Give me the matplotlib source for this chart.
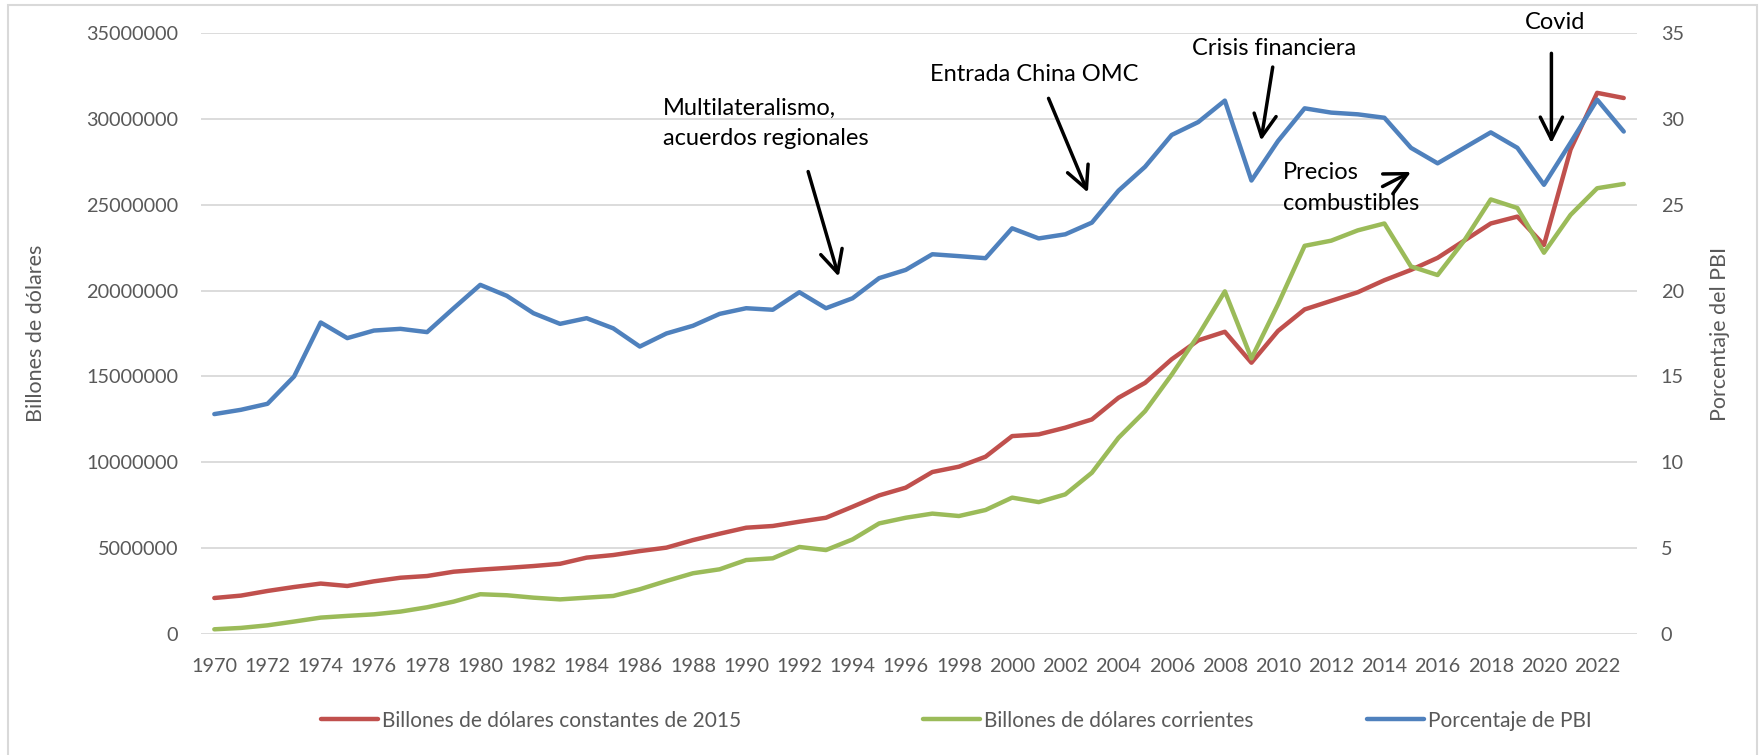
import matplotlib
matplotlib.use("Agg")
import matplotlib.pyplot as plt
from matplotlib.ticker import MultipleLocator, FuncFormatter
from matplotlib.patches import Rectangle

plt.rcParams['font.family'] = ['Lato', 'DejaVu Sans']

# data
years = list(range(1970, 2024))

# billones de dolares constantes de 2015
constantes = [2110000, 2250000, 2520000, 2750000, 2950000, 2810000, 3080000, 3290000, 3390000, 3640000,
              3760000, 3860000, 3970000, 4100000, 4460000, 4610000, 4840000, 5040000, 5480000, 5850000,
              6200000, 6300000, 6550000, 6780000, 7420000, 8080000, 8530000, 9440000, 9750000, 10330000,
              11530000, 11630000, 12020000, 12500000, 13760000, 14630000, 16000000, 17100000, 17600000, 15800000,
              17650000, 18900000, 19400000, 19900000, 20600000, 21200000, 21900000, 22900000, 23900000, 24300000,
              22650000, 28200000, 31500000, 31200000]

# billones de dolares corrientes
corrientes = [290000, 370000, 520000, 740000, 970000, 1070000, 1160000, 1320000, 1570000, 1900000,
              2330000, 2270000, 2130000, 2030000, 2130000, 2230000, 2620000, 3100000, 3550000, 3780000,
              4320000, 4420000, 5080000, 4900000, 5520000, 6450000, 6780000, 7020000, 6880000, 7230000,
              7950000, 7690000, 8140000, 9400000, 11430000, 12980000, 15100000, 17400000, 19950000, 16050000,
              19200000, 22600000, 22900000, 23500000, 23900000, 21400000, 20900000, 22900000, 25300000, 24800000,
              22200000, 24400000, 25950000, 26200000]

# porcentaje de PBI
porcentaje = [12.81, 13.06, 13.41, 15.0, 18.14, 17.23, 17.67, 17.77, 17.58, 18.97,
              20.33, 19.69, 18.68, 18.06, 18.39, 17.8, 16.74, 17.5, 17.95, 18.64,
              18.97, 18.88, 19.9, 18.97, 19.55, 20.72, 21.2, 22.11, 22.0, 21.88,
              23.62, 23.03, 23.27, 23.95, 25.81, 27.2, 29.05, 29.8, 31.05, 26.4,
              28.7, 30.6, 30.35, 30.25, 30.05, 28.3, 27.4, 28.3, 29.2, 28.3,
              26.15, 28.6, 31.1, 29.25]

series_labels = ['Billones de dólares constantes de 2015',
                 'Billones de dólares corrientes',
                 'Porcentaje de PBI']

# annotations: text, text position (year, %), arrow tail, arrow head
notas = [
    ('Multilateralismo,\nacuerdos regionales', (1986.86, 29.73), (1992.33, 26.92), (1993.48, 20.81)),
    ('Entrada China OMC', (1996.9, 32.54), (2001.37, 31.18), (2002.85, 25.7)),
    ('Crisis financiera', (2006.76, 34.1), (2009.8, 33.0), (2009.36, 28.72)),
    ('Precios\ncombustibles', (2010.19, 25.97), (2013.93, 26.05), (2015.0, 26.9)),
]
covid = ('Covid', (2020.43, 35.58), (2020.28, 33.8), (2020.28, 28.57))

RED = '#C0504D'
GREEN = '#9BBB59'
BLUE = '#4F81BD'
GREY = '#595959'
GRID = '#D9D9D9'

fig = plt.figure(figsize=(17.65, 7.55), dpi=100)
ax = fig.add_axes([0.1139, 0.1599, 0.9275 - 0.1139, 0.9567 - 0.1599])
ax2 = ax.twinx()

lw = 3.2
l1, = ax.plot(years, constantes, color=RED, lw=lw, solid_joinstyle='round', solid_capstyle='round')
l2, = ax.plot(years, corrientes, color=GREEN, lw=lw, solid_joinstyle='round', solid_capstyle='round')
l3, = ax2.plot(years, porcentaje, color=BLUE, lw=lw, solid_joinstyle='round', solid_capstyle='round')

ax.set_xlim(1969.5, 2023.5)
ax.set_ylim(0, 35000000)
ax2.set_ylim(0, 35)
ax.xaxis.set_major_locator(MultipleLocator(2))
ax.yaxis.set_major_locator(MultipleLocator(5000000))
ax2.yaxis.set_major_locator(MultipleLocator(5))
ax.yaxis.set_major_formatter(FuncFormatter(lambda v, p: f'{int(v)}'))

ax.grid(axis='y', color=GRID, lw=1.3)
ax.set_axisbelow(True)
for a in (ax, ax2):
    for s in a.spines.values():
        s.set_visible(False)
ax.tick_params(axis='both', length=0, labelsize=14.3, labelcolor=GREY)
ax.tick_params(axis='x', pad=17)
ax.tick_params(axis='y', pad=16.5)
ax2.tick_params(axis='y', length=0, labelsize=14.3, labelcolor=GREY, pad=17)

ax.set_ylabel('Billones de dólares', fontsize=15.5, color=GREY)
ax.yaxis.set_label_coords(-0.108, 0.5)
ax2.set_ylabel('Porcentaje del PBI', fontsize=15.5, color=GREY)
ax2.yaxis.set_label_coords(1.0508, 0.5)

arrow = dict(arrowstyle='->,head_length=0.8,head_width=0.4', lw=2.5, color='black',
             mutation_scale=20, shrinkA=0, shrinkB=0)
for texto, pos, tail, head in notas:
    ax2.text(pos[0], pos[1], texto, fontsize=17, ha='left', va='center', linespacing=1.55, color='black')
    ax2.annotate('', xy=head, xytext=tail, arrowprops=arrow)
ax2.text(covid[1][0], covid[1][1], covid[0], fontsize=17, ha='center', va='center', color='black')
ax2.annotate('', xy=covid[3], xytext=covid[2], arrowprops=arrow)

# one legend entry per box, left edges of the handles in figure pixels
for line, label, x_px in zip([l1, l2, l3], series_labels, [321, 923, 1367]):
    fig.legend([line], [label], loc='center left', bbox_to_anchor=(x_px / 1765, 0.0455),
               frameon=False, fontsize=15, handlelength=2.75, handletextpad=0.2,
               borderpad=0, borderaxespad=0, labelcolor=GREY)

fig.patches.append(Rectangle((8 / 1765, -0.01), (1757 - 8) / 1765, 1 - 5 / 755 + 0.01,
                             transform=fig.transFigure, fill=False, edgecolor=GRID, lw=1.5))

fig.savefig('out.png', dpi=100)
